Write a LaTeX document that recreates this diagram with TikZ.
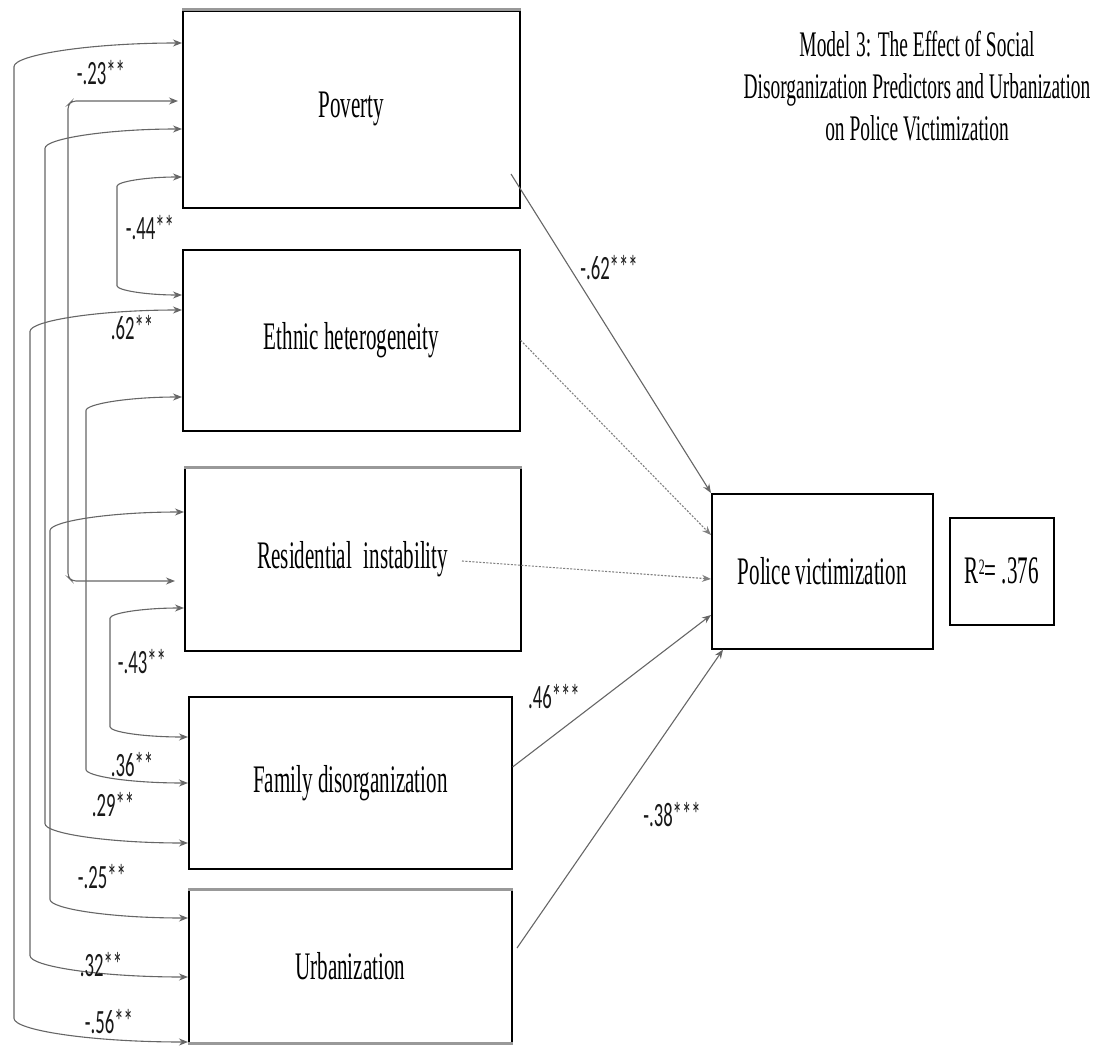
\documentclass[tikz,border=0pt]{standalone}
\usepackage{fontspec}
\usetikzlibrary{arrows.meta,calc}
\newfontfamily\boxfont[FakeStretch=0.54]{Liberation Serif}
\newfontfamily\labfont[FakeStretch=0.55]{Carlito}
\newcommand\corrline[5]{% box1, ya, X, box2, yb
  \pgfmathsetmacro\dd{0.14*(183-#3)}%
  \pgfmathsetmacro\cx{#3+0.45*(183-#3)}%
  \draw[corr] (#1.west |- 0,#2) .. controls (\cx,#2) and (#3,#2+0.5*\dd) .. (#3,#2+\dd)
     -- (#3,#5-\dd) .. controls (#3,#5-0.5*\dd) and (\cx,#5) .. (#4.west |- 0,#5);}
\begin{document}
\begin{tikzpicture}[x=1pt,y=-1pt,
  var/.style={draw=black,line width=1.6pt,rectangle,anchor=north west,inner sep=0pt,
    font=\boxfont\fontsize{39}{42}\selectfont},
  corr/.style={draw=black!60,line width=1.1pt,{Stealth[length=9pt,width=7pt]}-{Stealth[length=9pt,width=7pt]}},
  path/.style={draw=black!60,line width=1.1pt,-{Stealth[length=9pt,width=7pt]}},
  dotpath/.style={path,dash pattern=on 2pt off 1.5pt,draw=black!50},
  lab/.style={font=\labfont\fontsize{34}{34}\selectfont,inner sep=0pt,text=black!90},
  graytop/.style={line width=3pt,draw=black!40}
]
\useasboundingbox (0,0) rectangle (1103,1046);

% boxes
\node[var,minimum width=337pt,minimum height=197pt] (pov) at (182,10) {};
\node at (pov.center) [font=\boxfont\fontsize{39}{42}\selectfont] {Poverty};
\node[var,minimum width=337pt,minimum height=181pt] (eth) at (182,249) {};
\node at (eth.center) [font=\boxfont\fontsize{39}{42}\selectfont] {Ethnic heterogeneity};
\node[var,minimum width=336pt,minimum height=183pt] (res) at (184,467) {};
\node at (res.center) [font=\boxfont\fontsize{39}{42}\selectfont] {Residential\, instability};
\node[var,minimum width=323pt,minimum height=172pt] (fam) at (188,696) {};
\node at (fam.center) [font=\boxfont\fontsize{39}{42}\selectfont] {Family disorganization};
\node[var,minimum width=323pt,minimum height=153pt] (urb) at (188,889) {};
\node at (urb.center) [font=\boxfont\fontsize{39}{42}\selectfont] {Urbanization};
\node[var,minimum width=221pt,minimum height=155pt] (pol) at (711,493) {};
\node at (pol.center) [font=\boxfont\fontsize{39}{42}\selectfont] {Police victimization};
\node[var,minimum width=104pt,minimum height=107pt] (rsq) at (949,517) {};
\node at (rsq.center) [font=\boxfont\fontsize{39}{42}\selectfont] {R\raisebox{0.55ex}{\fontsize{22}{22}\selectfont 2}= .376};

% gray heavier edges
\draw[graytop] (pov.north west) -- (pov.north east);
\draw[graytop] (res.north west) -- (res.north east);
\draw[graytop] (urb.north west) -- (urb.north east);
\draw[graytop] (urb.south west) -- (urb.south east);

% title
\node[font=\boxfont\fontsize{36}{42}\selectfont,align=center] (title) at (917,86)
  {Model\,3: The Effect of Social\\Disorganization Predictors and Urbanization\\on Police Victimization};

% correlations
\corrline{pov}{43}{14}{urb}{1042}
\corrline{pov}{129}{45}{fam}{843}
\corrline{pov}{177}{117}{eth}{295}
\corrline{eth}{310}{30}{urb}{977}
\corrline{eth}{397}{86}{fam}{783}
\corrline{res}{512}{50}{urb}{918}
\corrline{res}{608}{110}{fam}{737}
\draw[corr,rounded corners=4pt,shorten <=4pt,shorten >=9pt] (pov.west |- 0,101) -- (72,101) -- (68,105) -- (68,577) -- (72,581) -- (res.west |- 0,581);

% paths to outcome
\coordinate (povout) at (511,174);
\coordinate (resout) at (462,561);
\coordinate (urbout) at (517,948);
\draw[path] (povout) -- (pol.north west);
\draw[dotpath] (eth.east) -- (pol.west |- 0,535);
\draw[dotpath] (resout) -- (pol.west |- 0,579);
\draw[path] (fam.east |- 0,767) -- (pol.west |- 0,615);
\draw[path] (urbout) -- ($(pol.south west)+(12,0)$);

% labels
\node[lab] (l1) at (609,268) {-.62***};
\node[lab] (l2) at (554,697) {.46***};
\node[lab] (l3) at (672,815) {-.38***};
\node[lab] (l4) at (101,73) {-.23**};
\node[lab] (l5) at (150,228) {-.44**};
\node[lab] (l6) at (132,328) {.62**};
\node[lab] (l7) at (142,662) {-.43**};
\node[lab] (l8) at (132,765) {.36**};
\node[lab] (l9) at (113,805) {.29**};
\node[lab] (l10) at (102,877) {-.25**};
\node[lab] (l11) at (101,965) {.32**};
\node[lab] (l12) at (109,1022) {-.56**};
\end{tikzpicture}
\end{document}
